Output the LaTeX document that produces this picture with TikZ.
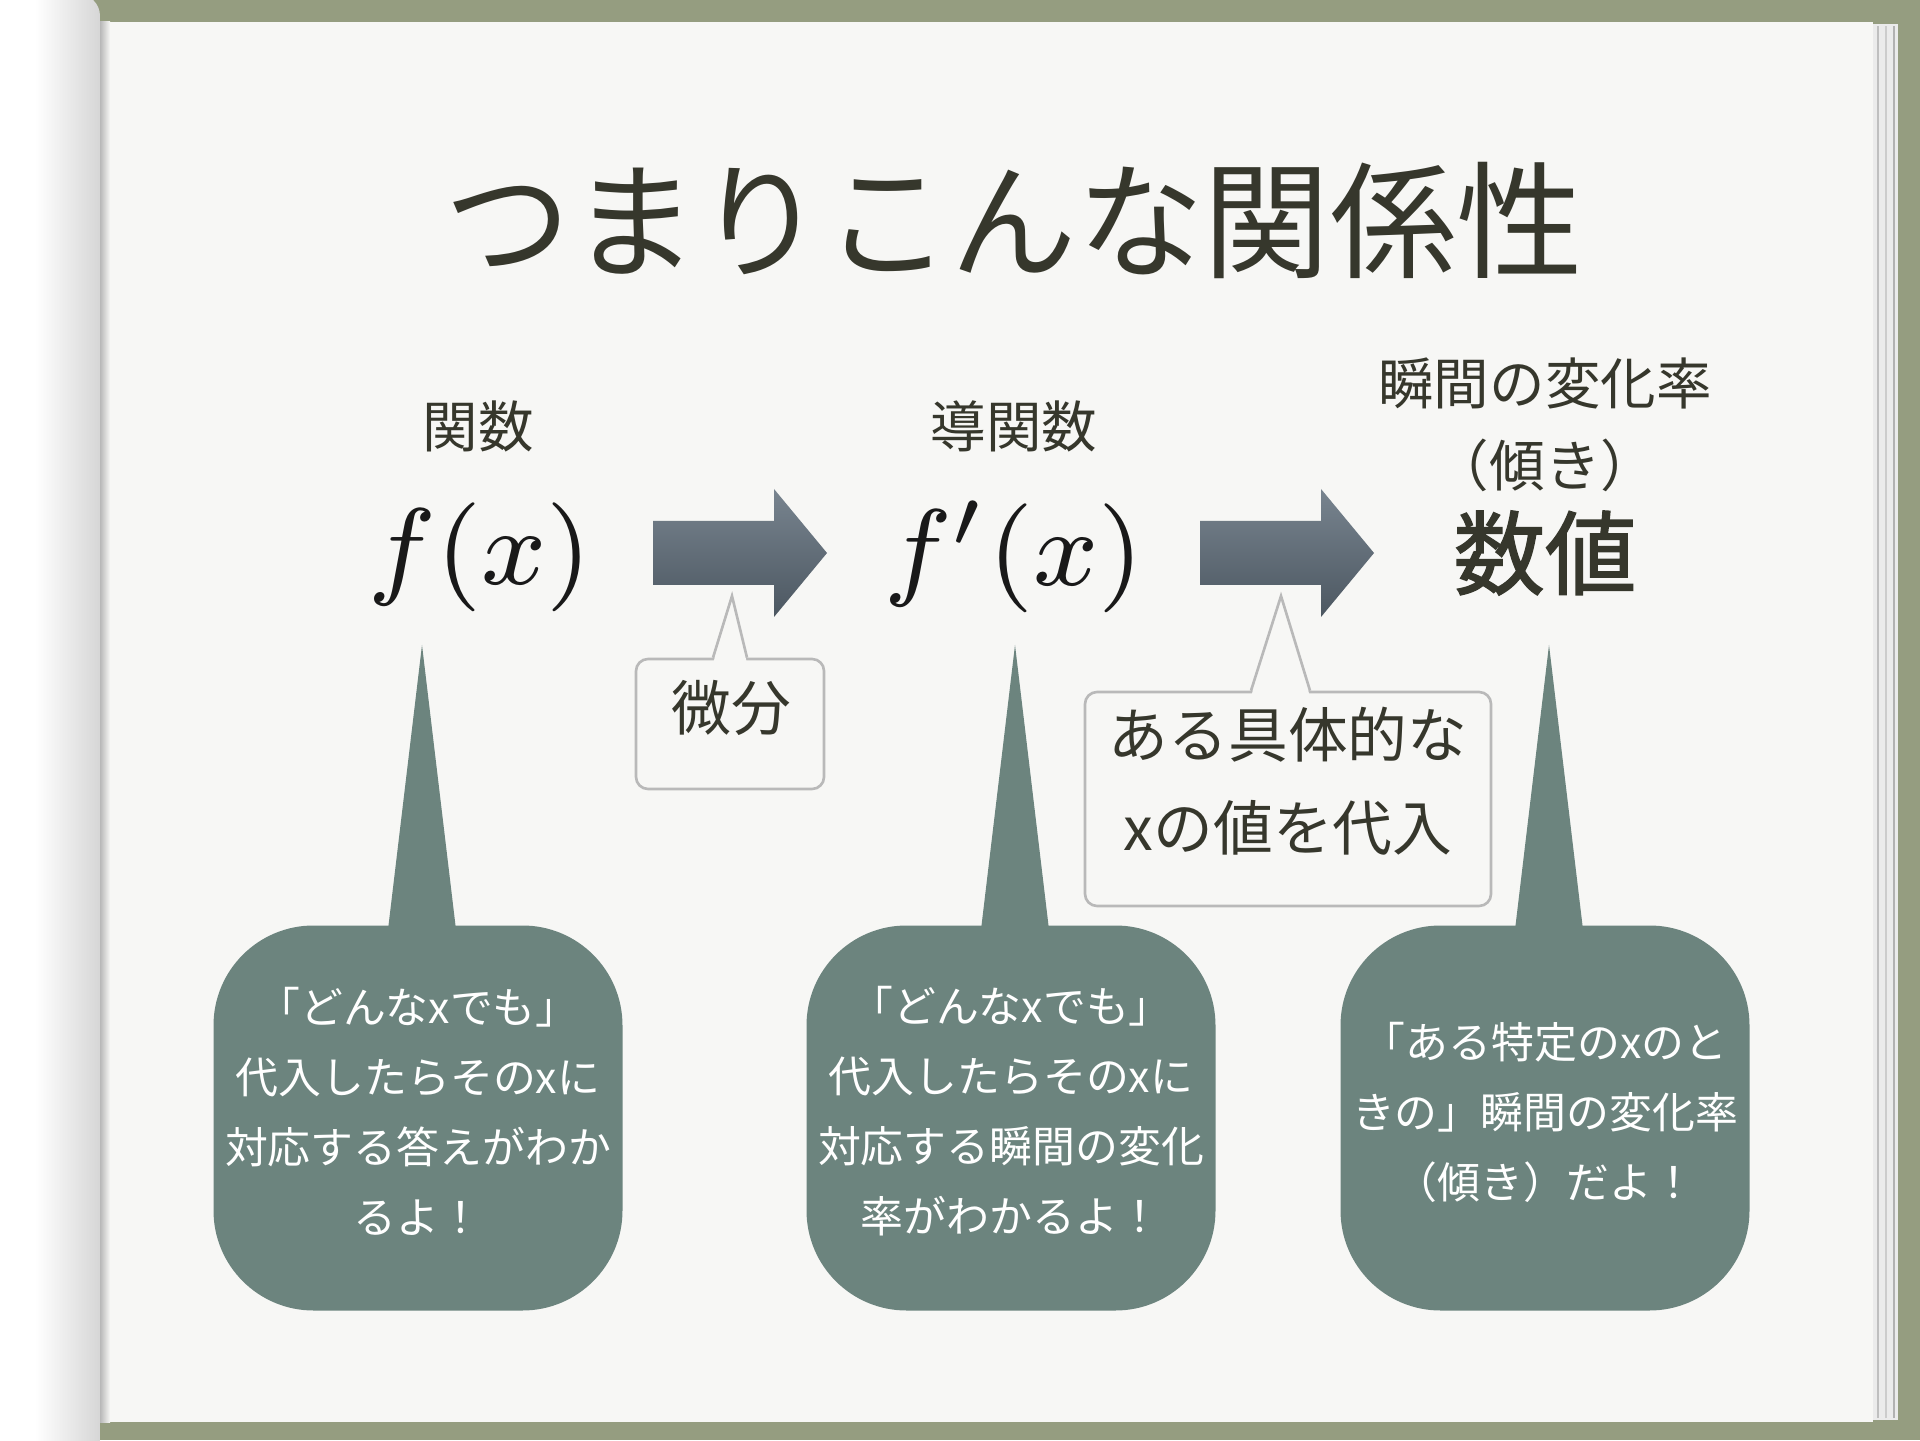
\documentclass[tikz,border=0pt]{standalone}
\usepackage{fontspec}
\setmainfont{Noto Sans CJK JP}
\newfontfamily\valfont[FakeBold=1.6]{Noto Sans CJK JP}

\definecolor{cloth}{RGB}{149,157,128}
\definecolor{paper}{RGB}{247,247,245}
\definecolor{ink}{RGB}{54,55,44}
\definecolor{sage}{RGB}{108,132,126}
\definecolor{rim}{RGB}{185,185,185}
\definecolor{slatetop}{RGB}{120,132,143}
\definecolor{slatebot}{RGB}{76,87,97}

\begin{document}
\begin{tikzpicture}[
	heading/.style={text=ink,font=\fontsize{15.8}{19}\selectfont},
	formula/.style={text=black!90,font=\fontsize{8}{9}\selectfont},
	remark/.style={text=ink,align=center,font=\fontsize{17}{26.5}\selectfont},
	notebox/.style={draw=rim,line width=0.75pt,fill=paper,rounded corners=0.12cm},
	bubble/.style={fill=sage,rounded corners=1cm,minimum width=4.09cm,minimum height=3.85cm},
	bubbletext/.style={text=white,align=center,font=\fontsize{12.2}{19.9}\selectfont},
	block/.style={top color=slatetop,bottom color=slatebot}
]
\useasboundingbox (0,0) rectangle (19.2,14.4);

\fill[cloth] (0,0) rectangle (19.2,14.4);
\fill[paper] (1.00,0.18) rectangle (18.73,14.18);
\shade[left color=black!28,right color=paper] (1.00,0.18) rectangle (1.10,14.18);
\fill[white!92!black] (18.73,0.20) rectangle (18.98,14.16);
\draw[white!75!black,line width=0.4pt] (18.78,0.22) to (18.78,14.14);
\draw[white!80!black,line width=0.4pt] (18.86,0.22) to (18.86,14.14);
\draw[white!70!black,line width=0.4pt] (18.94,0.22) to (18.94,14.14);
\shade[rounded corners=0.22cm,left color=white,right color=black!16,middle color=white]
	(-0.3,-0.3) rectangle (1.00,14.46);

\node[text=ink,font=\fontsize{36}{40}\selectfont] (title) at (10.14,12.20) {つまりこんな関係性};

\node[heading] (fname) at (4.78,10.14) {関数};
\node[heading] (dname) at (10.14,10.14) {導関数};
\node[heading] (rname) at (15.45,10.57) {瞬間の変化率};
\node[heading] (slope) at (15.45,9.75) {（傾き）};

\node[formula] (f) at (4.80,8.83) {\scalebox{3.875}{$f(x)$}};
\node[formula] (fd) at (10.14,8.83) {\scalebox{3.875}{$f'(x)$}};
\node[text=ink,font=\fontsize{26}{30}\selectfont\valfont] (val) at (15.45,8.87) {数値};

\shade[block] (6.53,9.19) to (7.74,9.19) to (7.74,9.51) to (8.27,8.87) to (7.74,8.23)
	to (7.74,8.55) to (6.53,8.55) to cycle;
\shade[block] (12.00,9.19) to (13.21,9.19) to (13.21,9.51) to (13.74,8.87) to (13.21,8.23)
	to (13.21,8.55) to (12.00,8.55) to cycle;

\node[notebox,minimum width=1.88cm,minimum height=1.30cm] (diffbox) at (7.30,7.16) {};
\coordinate (difftip) at (7.32,8.44);
\fill[paper] ([xshift=-0.17cm,yshift=-0.06cm]diffbox.north) to (difftip)
	to ([xshift=0.17cm,yshift=-0.06cm]diffbox.north) to cycle;
\draw[rim,line width=0.75pt] ([xshift=-0.17cm]diffbox.north) to (difftip) to ([xshift=0.17cm]diffbox.north);
\node[remark] (difftext) at (7.31,7.32) {微分};

\node[notebox,minimum width=4.06cm,minimum height=2.14cm] (substbox) at (12.88,6.41) {};
\coordinate (substtip) at (12.81,8.44);
\fill[paper] ([xshift=-0.37cm,yshift=-0.06cm]substbox.north) to (substtip)
	to ([xshift=0.22cm,yshift=-0.06cm]substbox.north) to cycle;
\draw[rim,line width=0.75pt] ([xshift=-0.37cm]substbox.north) to (substtip) to ([xshift=0.22cm]substbox.north);
\node[remark] (substtext) at (12.88,6.585) {ある具体的な\\xの値を代入};

\node[bubble] (fnote) at (4.18,3.22) {};
\coordinate (ftip) at (4.22,7.95);
\fill[sage] ([xshift=-0.33cm,yshift=-0.3cm]fnote.north) to (ftip) to ([xshift=0.41cm,yshift=-0.3cm]fnote.north) to cycle;
\node[bubbletext] (fnotetext) at (4.18,3.29) {「どんなxでも」\\代入したらそのxに\\対応する答えがわか\\るよ！};

\node[bubble] (fdnote) at (10.11,3.22) {};
\coordinate (fdtip) at (10.15,7.95);
\fill[sage] ([xshift=-0.33cm,yshift=-0.3cm]fdnote.north) to (fdtip) to ([xshift=0.41cm,yshift=-0.3cm]fdnote.north) to cycle;
\node[bubbletext] (fdnotetext) at (10.11,3.29) {「どんなxでも」\\代入したらそのxに\\対応する瞬間の変化\\率がわかるよ！};

\node[bubble] (valnote) at (15.45,3.22) {};
\coordinate (valtip) at (15.49,7.95);
\fill[sage] ([xshift=-0.33cm,yshift=-0.3cm]valnote.north) to (valtip) to ([xshift=0.41cm,yshift=-0.3cm]valnote.north) to cycle;
\node[bubbletext] (valnotetext) at (15.45,3.28) {「ある特定のxのと\\きの」瞬間の変化率\\（傾き）だよ！};

\end{tikzpicture}
\end{document}
